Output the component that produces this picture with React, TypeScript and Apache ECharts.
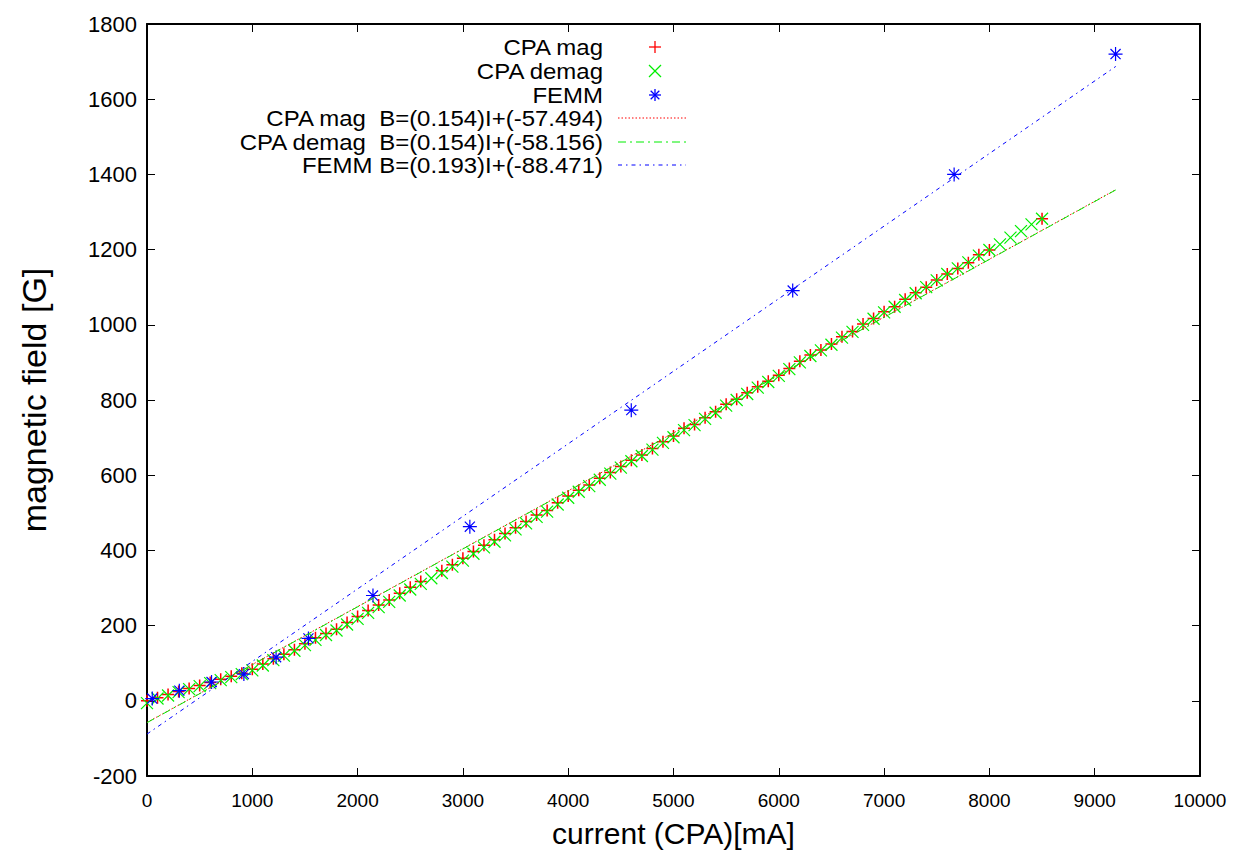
import React, { useEffect, useRef } from "react";
import * as echarts from "echarts";

// CPA magnetisation (red +)
const magCurrent = [
  0, 100, 200, 300, 400, 500, 600, 700, 800, 900,
  1000, 1100, 1200, 1300, 1400, 1500, 1600, 1700, 1800, 1900,
  2000, 2100, 2200, 2300, 2400, 2500, 2600,
  2800, 2900, 3000, 3100, 3200, 3300, 3400, 3500, 3600, 3700,
  3800, 3900, 4000, 4100, 4200, 4300, 4400, 4500, 4600, 4700,
  4800, 4900, 5000, 5100, 5200, 5300, 5400, 5500, 5600, 5700,
  5800, 5900, 6000, 6100, 6200, 6300, 6400, 6500, 6600, 6700,
  6800, 6900, 7000, 7100, 7200, 7300, 7400, 7500, 7600, 7700,
  7800, 7900, 8000, 8500,
];
const magField = [
  0, 8, 17, 25, 33, 41, 49, 57, 65, 73,
  84, 98, 112, 124, 136, 152, 168, 179, 190, 208,
  224, 240, 255, 268, 286, 302, 317,
  346, 362, 379, 397, 414, 428, 445, 460, 477, 494,
  506, 527, 545, 560, 574, 592, 607, 623, 640, 654,
  671, 689, 704, 725, 735, 753, 769, 789, 802, 819,
  835, 850, 866, 884, 903, 920, 933, 949, 968, 982,
  1002, 1017, 1035, 1048, 1068, 1085, 1100, 1119, 1135, 1150,
  1165, 1186, 1199, 1282,
];

// CPA demagnetisation (green x)
const demagCurrent = [
  0, 100, 200, 300, 400, 500, 600, 700, 800, 900,
  1000, 1100, 1200, 1300, 1400, 1500, 1600, 1700, 1800, 1900,
  2000, 2100, 2200, 2300, 2400, 2500, 2600, 2700, 2800, 2900,
  3000, 3100, 3200, 3300, 3400, 3500, 3600, 3700, 3800, 3900,
  4000, 4100, 4200, 4300, 4400, 4500, 4600, 4700, 4800, 4900,
  5000, 5100, 5200, 5300, 5400, 5500, 5600, 5700, 5800, 5900,
  6000, 6100, 6200, 6300, 6400, 6500, 6600, 6700, 6800, 6900,
  7000, 7100, 7200, 7300, 7400, 7500, 7600, 7700, 7800, 7900,
  8000, 8100, 8200, 8300, 8400, 8500,
];
const demagField = [
  -6, 6, 14, 23, 31, 39, 47, 55, 63, 71,
  81, 94, 108, 120, 133, 148, 162, 175, 187, 203,
  218, 234, 249, 263, 280, 296, 311, 326, 340, 357,
  373, 391, 408, 423, 440, 456, 472, 489, 503, 522,
  540, 556, 571, 588, 604, 620, 637, 651, 668, 686,
  701, 720, 733, 750, 766, 785, 800, 816, 833, 848,
  864, 882, 900, 917, 932, 947, 966, 981, 1000, 1016,
  1033, 1048, 1066, 1084, 1100, 1118, 1135, 1150, 1166, 1184,
  1199, 1214, 1232, 1249, 1267, 1282,
];

// FEMM simulation (blue *)
const femmCurrent = [50, 307, 613, 920, 1226, 1533, 2146, 3066, 4599, 6132, 7665, 9198];
const femmField = [6, 27, 50, 71, 116, 166, 280, 463, 773, 1091, 1400, 1720];

// Linear fits (end points)
const fitCurrent = [0, 9200];
const magFit = [-57.494, 1359.306];
const demagFit = [-58.156, 1358.644];
const femmFit = [-88.471, 1687.129];

const legendLabels = [
  "CPA mag",
  "CPA demag",
  "FEMM",
  "CPA mag  B=(0.154)I+(-57.494)",
  "CPA demag  B=(0.154)I+(-58.156)",
  "FEMM B=(0.193)I+(-88.471)",
];

const xTicksMin = 0, xTicksMax = 10000, xTickStep = 1000;
const yTicksMin = -200, yTicksMax = 1800, yTickStep = 200;

const RED = "#ff0000";
const GREEN = "#00ee00";
const BLUE = "#0000ff";

const zip = (xs: number[], ys: number[]) => xs.map((x, i) => [x, ys[i]]);

const PLUS = "path://M0,-1L0,1M-1,0L1,0";
const CROSS = "path://M-1,-1L1,1M-1,1L1,-1";
const STAR = "path://M0,-1L0,1M-1,0L1,0M-0.72,-0.72L0.72,0.72M-0.72,0.72L0.72,-0.72";

const FONT = '"Liberation Sans", Arial, Helvetica, sans-serif';

function buildLegend() {
  const rowsY = [47, 71, 95, 118, 142, 165];
  const textRight = 603;
  const symX = 655;
  const lineX1 = 618;
  const lineX2 = 686;
  const els: any[] = [];
  legendLabels.forEach((t, i) => {
    els.push({
      type: "text",
      x: textRight,
      y: rowsY[i],
      scaleX: 1.09,
      style: {
        text: t,
        align: "right",
        verticalAlign: "middle",
        font: `22px ${FONT}`,
        fill: "#000",
      },
    });
  });
  const s = 6;
  els.push({ type: "line", shape: { x1: symX - s, y1: rowsY[0], x2: symX + s, y2: rowsY[0] }, style: { stroke: RED, lineWidth: 1.3 } });
  els.push({ type: "line", shape: { x1: symX, y1: rowsY[0] - s, x2: symX, y2: rowsY[0] + s }, style: { stroke: RED, lineWidth: 1.3 } });
  els.push({ type: "line", shape: { x1: symX - s, y1: rowsY[1] - s, x2: symX + s, y2: rowsY[1] + s }, style: { stroke: GREEN, lineWidth: 1.3 } });
  els.push({ type: "line", shape: { x1: symX - s, y1: rowsY[1] + s, x2: symX + s, y2: rowsY[1] - s }, style: { stroke: GREEN, lineWidth: 1.3 } });
  const d = s * 0.72;
  [[-s, 0, s, 0], [0, -s, 0, s], [-d, -d, d, d], [-d, d, d, -d]].forEach((p) => {
    els.push({ type: "line", shape: { x1: symX + p[0], y1: rowsY[2] + p[1], x2: symX + p[2], y2: rowsY[2] + p[3] }, style: { stroke: BLUE, lineWidth: 1.3 } });
  });
  els.push({ type: "line", shape: { x1: lineX1, y1: rowsY[3], x2: lineX2, y2: rowsY[3] }, style: { stroke: RED, lineWidth: 1, lineDash: [1.5, 2] } });
  els.push({ type: "line", shape: { x1: lineX1, y1: rowsY[4], x2: lineX2, y2: rowsY[4] }, style: { stroke: GREEN, lineWidth: 1, lineDash: [8, 4, 2, 4] } });
  els.push({ type: "line", shape: { x1: lineX1, y1: rowsY[5], x2: lineX2, y2: rowsY[5] }, style: { stroke: BLUE, lineWidth: 1, lineDash: [4, 4, 1.5, 4] } });
  return els;
}

export default function App() {
  const ref = useRef<HTMLDivElement>(null);
  useEffect(() => {
    if (!ref.current) return;
    const chart = echarts.init(ref.current, null, { renderer: "svg" });
    const axisLine = { show: true, onZero: false, lineStyle: { color: "#000", width: 2 } };
    const tick = { show: true, inside: true, length: 8, lineStyle: { color: "#000", width: 1 } };
    const plain = (v: number) => String(v);
    const option: any = {
      animation: false,
      backgroundColor: "#fff",
      grid: { left: 147, right: 36, top: 24, bottom: 76, containLabel: false, outerBoundsMode: "none" },
      xAxis: [
        {
          type: "value",
          min: xTicksMin,
          max: xTicksMax,
          interval: xTickStep,
          axisLine,
          axisTick: tick,
          splitLine: { show: false },
          axisLabel: { color: "#000", fontFamily: FONT, fontSize: 19, margin: 15, formatter: plain },
          name: "current (CPA)[mA]",
          nameLocation: "middle",
          nameGap: 42,
          nameTextStyle: { color: "#000", fontFamily: FONT, fontSize: 30 },
        },
        {
          type: "value",
          position: "top",
          min: xTicksMin,
          max: xTicksMax,
          interval: xTickStep,
          axisLine,
          axisTick: tick,
          axisLabel: { show: false },
          splitLine: { show: false },
        },
      ],
      yAxis: [
        {
          type: "value",
          min: yTicksMin,
          max: yTicksMax,
          interval: yTickStep,
          axisLine,
          axisTick: tick,
          splitLine: { show: false },
          axisLabel: { color: "#000", fontFamily: FONT, fontSize: 22, margin: 10, formatter: plain },
          name: "magnetic field [G]",
          nameLocation: "middle",
          nameGap: 96,
          nameTextStyle: { color: "#000", fontFamily: FONT, fontSize: 34 },
        },
        {
          type: "value",
          position: "right",
          min: yTicksMin,
          max: yTicksMax,
          interval: yTickStep,
          axisLine,
          axisTick: tick,
          axisLabel: { show: false },
          splitLine: { show: false },
        },
      ],
      series: [
        {
          name: "CPA mag",
          type: "scatter",
          data: zip(magCurrent, magField),
          symbol: PLUS,
          symbolSize: 12,
          silent: true,
          itemStyle: { color: RED, borderColor: RED, borderWidth: 1.5, opacity: 1 },
        },
        {
          name: "CPA demag",
          type: "scatter",
          data: zip(demagCurrent, demagField),
          symbol: CROSS,
          symbolSize: 12,
          silent: true,
          itemStyle: { color: GREEN, borderColor: GREEN, borderWidth: 1.2, opacity: 1 },
        },
        {
          name: "FEMM",
          type: "scatter",
          data: zip(femmCurrent, femmField),
          symbol: STAR,
          symbolSize: 14,
          silent: true,
          itemStyle: { color: BLUE, borderColor: BLUE, borderWidth: 1.2, opacity: 1 },
        },
        {
          name: legendLabels[3],
          type: "line",
          data: zip(fitCurrent, magFit),
          symbol: "none",
          silent: true,
          lineStyle: { color: RED, width: 1, type: [1.5, 2] },
        },
        {
          name: legendLabels[4],
          type: "line",
          data: zip(fitCurrent, demagFit),
          symbol: "none",
          silent: true,
          lineStyle: { color: GREEN, width: 1, type: [8, 4, 2, 4] },
        },
        {
          name: legendLabels[5],
          type: "line",
          data: zip(fitCurrent, femmFit),
          symbol: "none",
          silent: true,
          lineStyle: { color: BLUE, width: 1, type: [4, 4, 1.5, 4] },
        },
      ],
      graphic: buildLegend(),
    };
    chart.setOption(option);
    return () => chart.dispose();
  }, []);
  return (
    <div
      ref={ref}
      style={{ position: "absolute", left: 0, top: 0, width: 1236, height: 852, background: "#fff" }}
    />
  );
}
